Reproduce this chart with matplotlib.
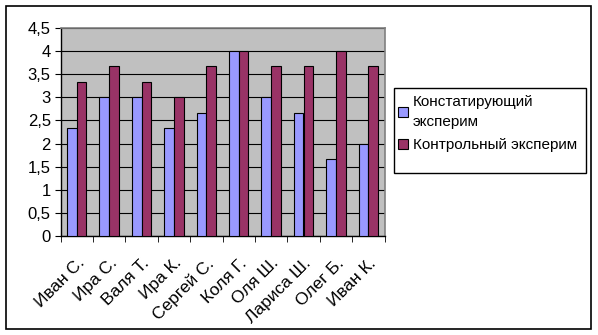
import matplotlib
matplotlib.use("Agg")
import matplotlib.pyplot as plt
from matplotlib.patches import Rectangle
import matplotlib.transforms as mtransforms
import numpy as np

categories = ["Иван С.", "Ира С.", "Валя Т.", "Ира К.", "Сергей С.", "Коля Г.",
              "Оля Ш.", "Лариса Ш.", "Олег Б.", "Иван К."]
series_names = ["Констатирующий\nэксперим", "Контрольный эксперим"]
konst = [2.33, 3.0, 3.0, 2.33, 2.67, 4.0, 3.0, 2.67, 1.67, 2.0]
kontr = [3.33, 3.67, 3.33, 3.0, 3.67, 4.0, 3.67, 3.67, 4.0, 3.67]
yticks = [0, 0.5, 1, 1.5, 2, 2.5, 3, 3.5, 4, 4.5]
ytick_labels = ["0", "0,5", "1", "1,5", "2", "2,5", "3", "3,5", "4", "4,5"]

plt.rcParams['font.family'] = ['Liberation Sans', 'DejaVu Sans']

W, H = 598, 335
fig = plt.figure(figsize=(W / 100, H / 100), dpi=100)
fig.patch.set_facecolor("white")

# outer border
fig.patches.append(Rectangle((5.5 / W, 1 - 328.5 / H), 585.5 / W, 323 / H,
                             transform=fig.transFigure, fill=False,
                             edgecolor="black", linewidth=1.2))
# legend border
fig.patches.append(Rectangle((394 / W, 1 - 173 / H), 192 / W, 85 / H,
                             transform=fig.transFigure, fill=True, facecolor="white",
                             edgecolor="black", linewidth=1.0))

left, right, top, bottom = 60.5, 384.5, 28, 236
ax = fig.add_axes([left / W, 1 - bottom / H, (right - left) / W, (bottom - top) / H])
ax.set_facecolor("#C0C0C0")

x = np.arange(len(categories))
bw = 0.3
ax.bar(x - bw / 2, konst, bw, color="#9999FF", edgecolor="black", linewidth=0.8,
       label=series_names[0], zorder=3)
ax.bar(x + bw / 2, kontr, bw, color="#993366", edgecolor="black", linewidth=0.8,
       label=series_names[1], zorder=3)

ax.set_xlim(-0.5, len(categories) - 0.5)
ax.set_ylim(0, 4.5)
ax.set_yticks(yticks)
ax.set_yticklabels(ytick_labels, fontsize=12)
ax.yaxis.grid(True, color="black", linewidth=0.8, zorder=1)
ax.set_axisbelow(True)

ax.set_xticks(x)
ax.set_xticklabels(categories, rotation=45, ha="right", rotation_mode="anchor", fontsize=12.5)
offset = mtransforms.ScaledTranslation(-3 / 100, 0, fig.dpi_scale_trans)
for lab in ax.get_xticklabels():
    lab.set_transform(lab.get_transform() + offset)
ax.set_xticks(np.arange(len(categories) + 1) - 0.5, minor=True)
ax.tick_params(axis="x", which="major", length=0, pad=14)
ax.tick_params(axis="x", which="minor", length=4, direction="out", color="black")
ax.tick_params(axis="y", length=4, direction="out", color="black", pad=3)

for s in ["top", "right"]:
    ax.spines[s].set_color("#808080")
    ax.spines[s].set_linewidth(1.2)
for s in ["left", "bottom"]:
    ax.spines[s].set_color("black")
    ax.spines[s].set_linewidth(1)

leg = fig.legend(loc="upper left", bbox_to_anchor=(398 / W, 1 - 95 / H),
                 bbox_transform=fig.transFigure, fontsize=11, frameon=False,
                 handlelength=0.65, handleheight=0.65, handletextpad=0.3,
                 borderpad=0.0, labelspacing=0.6, borderaxespad=0)
for t in leg.get_texts():
    t.set_linespacing(1.55)

fig.savefig("out.png", dpi=100)
